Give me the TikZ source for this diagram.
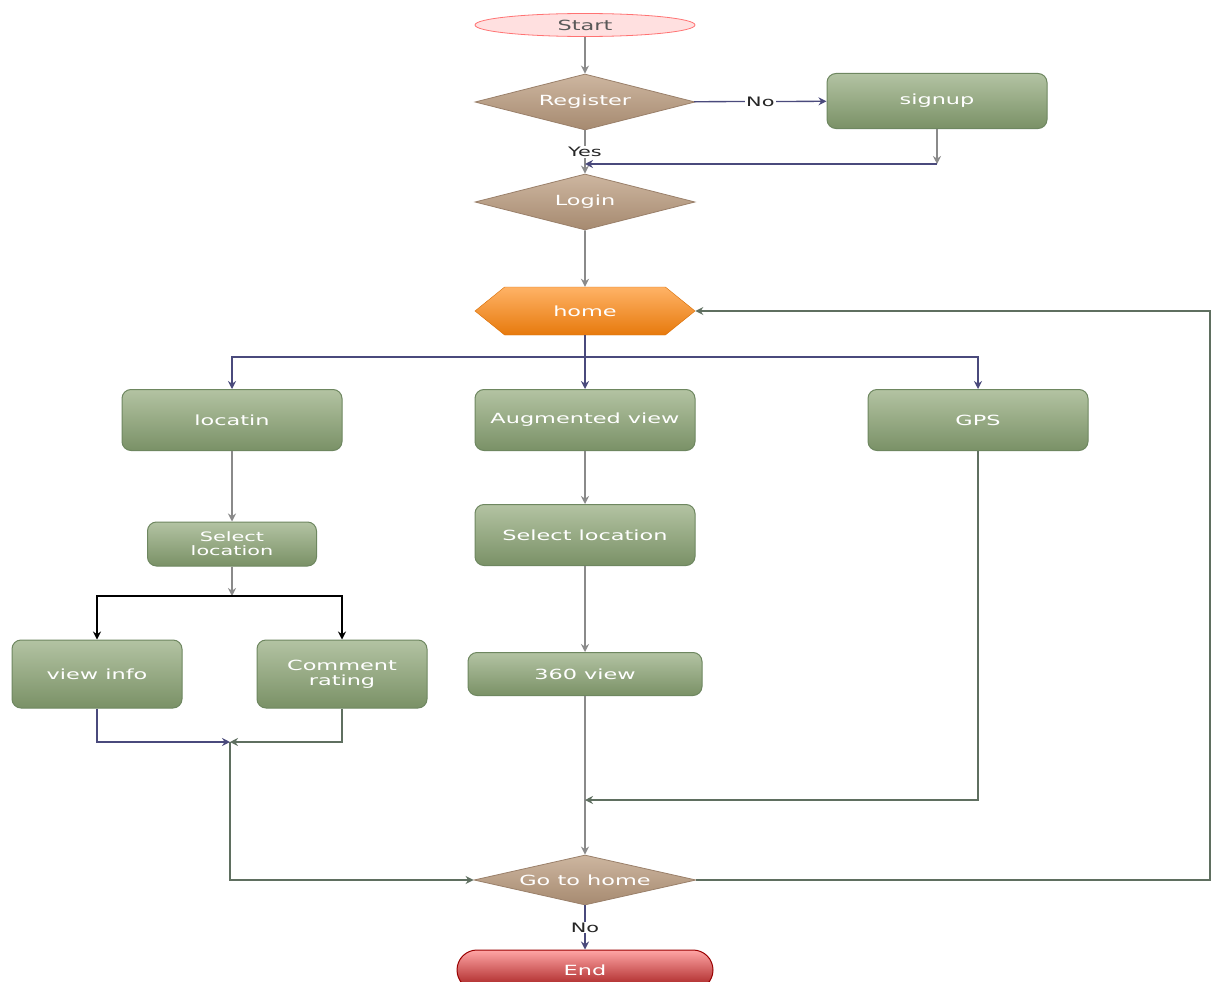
\documentclass[tikz,border=0pt]{standalone}
\usepackage{fontspec}
\newfontfamily\wfont[FakeStretch=1.6]{DejaVu Sans}
\usetikzlibrary{shapes.geometric,shapes.misc,shapes.symbols,arrows.meta}
\definecolor{gtop}{HTML}{B3C3A3}
\definecolor{gbot}{HTML}{7A9166}
\definecolor{gbrd}{HTML}{6E8760}
\definecolor{dtop}{HTML}{CDB6A0}
\definecolor{dbot}{HTML}{A68A70}
\definecolor{dbrd}{HTML}{9A806A}
\definecolor{navy}{HTML}{4A4A7C}
\definecolor{lgray}{HTML}{8A8A8A}
\definecolor{dgreen}{HTML}{5F6F60}
\begin{document}
\begin{tikzpicture}[x=1pt,y=-1pt,
  txt/.style={font=\wfont\fontsize{14}{15}\selectfont},
  gbox/.style={txt, rectangle, rounded corners=9pt, draw=gbrd, line width=1pt,
    top color=gtop, bottom color=gbot, text=white, align=center,
    minimum width=220pt, minimum height=61pt, inner sep=2pt},
  dia/.style={txt, diamond, aspect=3.9, draw=dbrd, line width=0.8pt, top color=dtop, bottom color=dbot,
    text=white, minimum width=220pt, minimum height=56pt, inner sep=0pt},
  lbl/.style={font=\wfont\fontsize{13}{14}\selectfont, text=black!85, fill=white, inner sep=1pt},
  arr/.style={draw=lgray, line width=1.8pt, -{Stealth[length=8pt,width=8pt]}},
  navarr/.style={draw=navy, line width=1.3pt, -{Stealth[length=8pt,width=8pt]}},
  grnarr/.style={draw=dgreen, line width=1.3pt, -{Stealth[length=8pt,width=8pt]}},
]
\useasboundingbox (0,0) rectangle (1213,982);
\fill[white] (0,0) rectangle (1213,982);

% nodes
\node[txt, ellipse, draw=red!55!white, fill=red!12!white, text=black!65, line width=0.8pt,
  minimum width=220pt, minimum height=23pt, inner sep=0pt] (start) at (585,25) {Start};
\node[dia] (reg) at (585,102) {Register};
\node[gbox, minimum height=55pt] (signup) at (937,101) {signup};
\node[dia] (login) at (585,202) {Login};
\node[txt, signal, signal to=west and east, signal pointer angle=78,
  draw=orange!85!black, top color=orange!60!white, bottom color=orange!90!black!95,
  text=white, minimum width=220pt, minimum height=48pt, inner sep=0pt] (home) at (585,311) {home};
\node[gbox] (loc) at (232,420) {locatin};
\node[gbox] (aug) at (585,420) {Augmented view};
\node[gbox] (gps) at (978,420) {GPS};
\node[gbox, minimum width=169pt, minimum height=44pt, font=\wfont\fontsize{13}{14}\selectfont] (sel1) at (232,544) {Select\\location};
\node[gbox] (sel2) at (585,535) {Select location};
\node[gbox, minimum width=170pt, minimum height=68pt] (vinfo) at (97,674) {view info};
\node[gbox, minimum width=170pt, minimum height=68pt] (comm) at (342,674) {Comment\\rating};
\node[gbox, minimum width=234pt, minimum height=43pt] (v360) at (585,674) {360 view};
\node[dia, aspect=4.4, minimum height=50pt, minimum width=222pt] (goh) at (585,880) {Go to home};
\node[txt, rounded rectangle, draw=red!60!black, line width=1pt,
  top color=red!35!white, bottom color=red!60!black!90, text=white,
  minimum width=256pt, minimum height=40pt, inner sep=0pt] (end) at (585,970) {End};

% coordinates
\coordinate (j1) at (585,164);
\coordinate (c1) at (937,164);
\coordinate (b1) at (585,357);
\coordinate (b2) at (232,596);
\coordinate (m1) at (230,742);
\coordinate (m3) at (585,800);
\coordinate (r1) at (1210,880);
\coordinate (r2) at (1210,311);

% connectors
\draw[arr] (start) -- (reg);
\draw[navarr] (reg) -- node[lbl]{No} (signup);
\draw[arr] (reg) -- node[lbl]{Yes} (login);
\draw[arr] (signup) -- (c1);
\draw[navarr] (c1) -- (j1);
\draw[arr] (login) -- (home);
\draw[navy, line width=1.3pt] (home) -- (b1);
\draw[navarr] (b1) -| (loc.north);
\draw[navarr] (b1) -- (aug);
\draw[navarr] (b1) -| (gps.north);
\draw[arr] (loc) -- (sel1);
\draw[arr] (sel1) -- (b2);
\draw[black, line width=1.3pt, -{Stealth[length=8pt,width=8pt]}] (b2) -| (vinfo.north);
\draw[black, line width=1.3pt, -{Stealth[length=8pt,width=8pt]}] (b2) -| (comm.north);
\draw[navarr] (vinfo.south) |- (m1);
\draw[grnarr] (comm.south) |- (m1);
\draw[grnarr] (m1) |- (goh.west);
\draw[arr] (aug) -- (sel2);
\draw[arr] (sel2) -- (v360);
\draw[arr] (v360) -- (goh);
\draw[grnarr] (gps.south) |- (m3);
\draw[grnarr] (goh.east) -- (r1) -- (r2) -- (home.east);
\draw[navarr] (goh) -- node[lbl]{No} (end);
\end{tikzpicture}
\end{document}
